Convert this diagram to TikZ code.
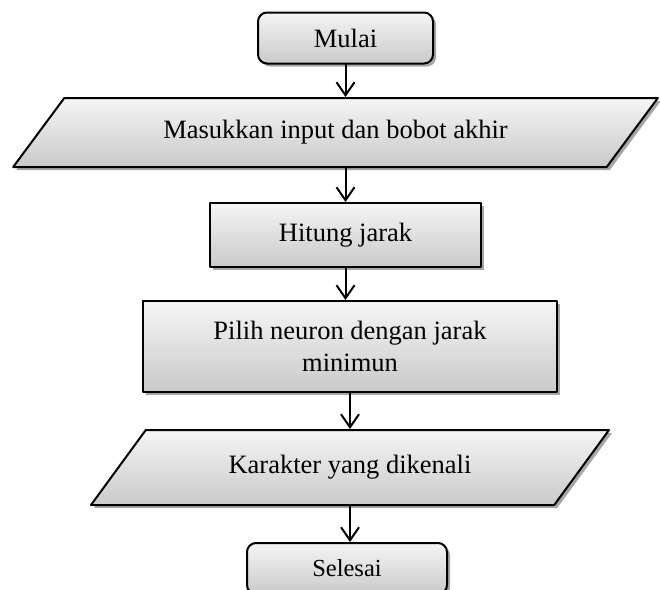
\documentclass[tikz,border=0pt]{standalone}
\usepackage{fontspec}
\setmainfont{Liberation Serif}
\usetikzlibrary{arrows.meta,shapes.geometric,shadows}

\begin{document}
\begin{tikzpicture}[x=1pt, y=-1pt, line cap=round, line join=round,
	box/.style={draw, line width=2pt, top color=gray!8, bottom color=gray!42,
		drop shadow={shadow xshift=3pt, shadow yshift=-3pt, fill=gray!70, opacity=1},
		font=\fontsize{26.5}{32}\selectfont, align=center, inner sep=0pt},
	terminal/.style={box, rectangle, rounded corners=9pt},
	process/.style={box, rectangle},
	io/.style={box, trapezium, trapezium left angle=36.5, trapezium right angle=143.5, trapezium stretches=true},
	flow/.style={-{Straight Barb[length=13pt,width=18pt,line width=2pt]}, line width=2pt}]
	\useasboundingbox (0,0) rectangle (660,589);
	
	% --- flowchart nodes ---
	\node[terminal, minimum width=175pt, minimum height=51pt] (mulai) at (345.5,38) {Mulai};
	\node[io, minimum width=645pt, minimum height=69pt] (masukan) at (335.5,132.5) {Masukkan input dan bobot akhir};
	\node[process, minimum width=271pt, minimum height=64pt] (hitung) at (345.5,235) {Hitung jarak};
	\node[process, minimum width=414pt, minimum height=91pt] (pilih) at (350,346.5) {Pilih neuron dengan jarak\\minimun};
	\node[io, minimum width=520pt, minimum height=75pt] (karakter) at (350,467.5) {Karakter yang dikenali};
	\node[terminal, font=\fontsize{24.5}{30}\selectfont, minimum width=200pt, minimum height=51pt] (selesai) at (347,568.5) {Selesai};
	
	% --- arrows ---
	\draw[flow] (mulai.south) -- (mulai.south |- masukan.north);
	\draw[flow] (masukan.south -| hitung.north) -- (hitung.north);
	\draw[flow] (hitung.south) -- (hitung.south |- pilih.north);
	\draw[flow] (pilih.south) -- (pilih.south |- karakter.north);
	\draw[flow] (karakter.south) -- (karakter.south |- selesai.north);
\end{tikzpicture}
\end{document}
